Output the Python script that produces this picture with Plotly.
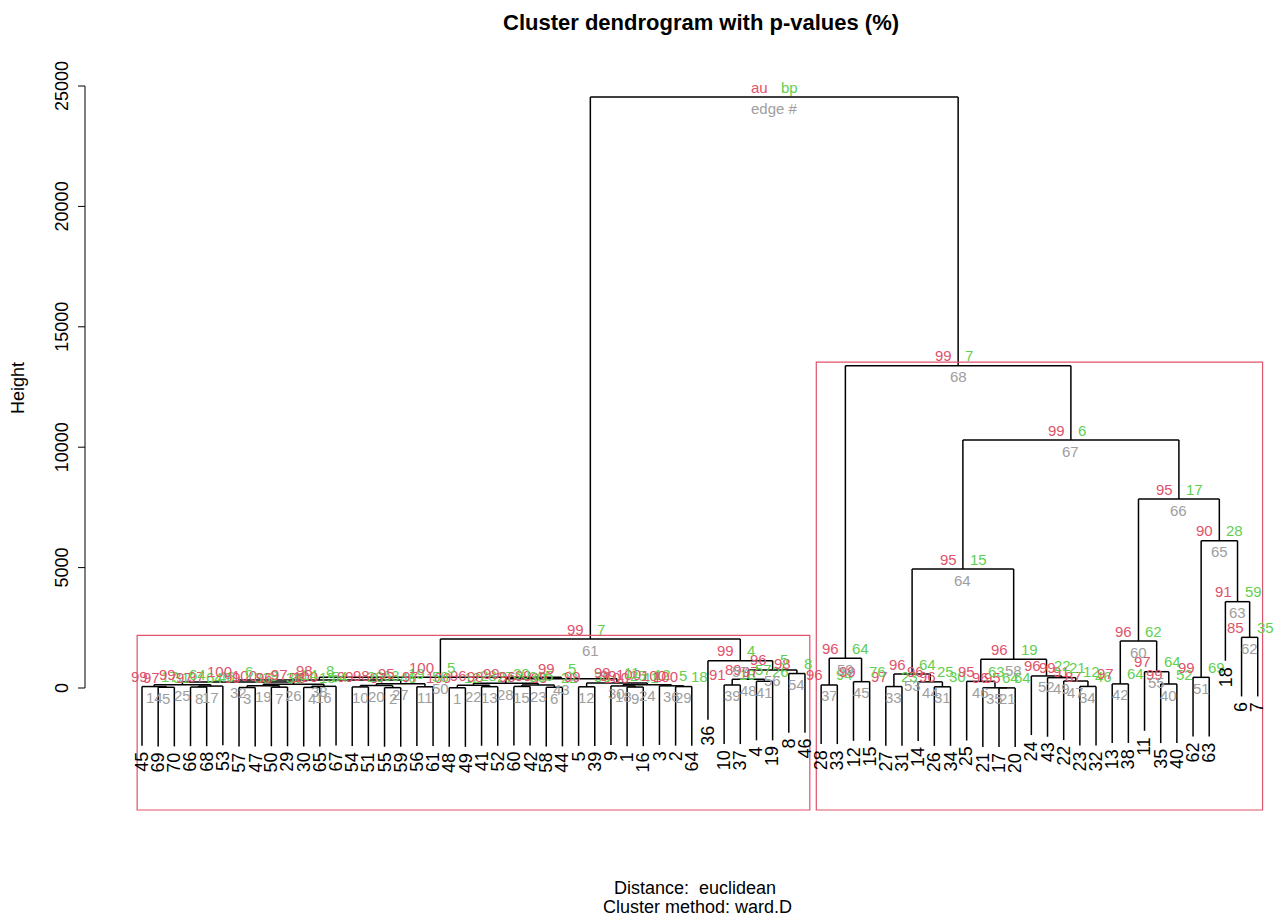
import plotly.graph_objects as go

# ---------------- data ----------------
title_text = "Cluster dendrogram with p-values (%)"
xlab_text = "Distance:  euclidean"
sub_text = "Cluster method: ward.D"
ylab_text = "Height"

leaf_order = [45, 69, 70, 66, 68, 53, 57, 47, 50, 29, 30, 65, 67, 54, 51, 55, 59, 56, 61, 48,
              49, 41, 52, 60, 42, 58, 44, 5, 39, 9, 1, 16, 3, 2, 64, 36, 10, 37, 4, 19,
              8, 46, 28, 33, 12, 15, 27, 31, 14, 26, 34, 25, 21, 17, 20, 24, 43, 22, 23, 32,
              13, 38, 11, 35, 40, 62, 63, 18, 6, 7]

# hclust-style merge rows (row number = edge #); negative = leaf label, positive = earlier row
merge_left = [-48, -55, -57, -30, -69, -58, -50, -66, -1, -54,
              -56, -5, -41, -45, -60, 4, 8, -9, 3, 10,
              -17, 1, 15, 18, 14, 19, 20, 22, -2, 12,
              -26, 25, -27, -23, -21, -3, -28, 32, -10, -35,
              -4, -13, 28, -14, -12, -25, -22, 39, -43, 38,
              -62, -24, 33, -8, -11, 48, -36, 46, 37, 42,
              50, -6, -18, 53, 51, 60, 64, 59, 61]
merge_right = [-49, -59, -47, -65, -70, -44, -29, -68, -16, -51,
               -61, -39, -52, 5, -42, -67, -53, 9, 7, 2,
               -20, 13, 6, 36, 17, 16, 11, 23, -64, 24,
               -34, 26, -31, -32, 21, 29, -33, 27, -37, -40,
               -19, -38, 30, 31, -15, 35, 34, 41, 47, 43,
               -63, 49, 44, -46, 40, 54, 56, 52, 45, 55,
               57, -7, 62, 58, 63, 65, 66, 67, 68]
merge_height = [10, 15, 20, 25, 30, 30, 35, 40, 40, 45,
                50, 50, 55, 60, 65, 70, 80, 85, 90, 100,
                5, 110, 120, 130, 140, 160, 180, 200, 60, 210,
                50, 250, 60, 65, 8, 90, 125, 330, 125, 166,
                280, 170, 380, 255, 262, 275, 290, 360, 430, 450,
                443, 500, 580, 600, 677, 750, 1134, 1190, 1233, 1952,
                2035, 2104, 3585, 4942, 6118, 7849, 10299, 13385, 24543]
au_values = [100, 97, 99, 98, 97, 99, 96, 97, 100, 99,
             97, 99, 98, 99, 96, 100, 97, 99, 100, 98,
             95, 96, 99, 100, 99, 97, 95, 99, 100, 99,
             96, 100, 97, 87, 96, 100, 96, 98, 91, 99,
             97, 97, 99, 96, 99, 95, 91, 89, 99, 100,
             99, 96, 96, 98, 97, 96, 99, 96, 96, 96,
             99, 85, 91, 95, 90, 95, 99, 99, 99]
bp_values = [12, 46, 33, 15, 31, 22, 38, 64, 41, 20,
             58, 36, 27, 17, 30, 54, 46, 25, 9, 63,
             64, 28, 5, 12, 64, 14, 19, 30, 18, 11,
             30, 6, 23, 46, 64, 5, 94, 8, 18, 52,
             26, 64, 5, 25, 76, 63, 12, 57, 21, 5,
             69, 22, 64, 8, 64, 5, 4, 19, 64, 62,
             7, 35, 59, 15, 28, 17, 6, 7, 7]
y_ticks = [0, 5000, 10000, 15000, 20000, 25000]
highlight_edges = [61, 68]   # clusters boxed by pvrect (au >= 95)

# ---------------- styling / layout constants ----------------
RED = "#DF536B"
GREEN = "#61D04F"
GRAY = "#9E9E9E"
FONT = "Liberation Sans, Arial, Helvetica, sans-serif"
W, H = 1280, 924
M_L, M_R, M_T, M_B = 60, 5, 60, 94
X_RANGE = [-4.071, 71.068]
Y_RANGE = [-5897, 26080]
AXIS_X = -2.525
PX_PER_X = (W - M_L - M_R) / (X_RANGE[1] - X_RANGE[0])

# ---------------- geometry from the merge table ----------------
pos = {lab: i + 1 for i, lab in enumerate(leaf_order)}
n_rows = len(merge_left)
max_h = max(merge_height)
hang = 0.1 * max_h
node_x = {}


def child_x(c):
    if c < 0:
        return pos[-c]
    return row_x(c)


def row_x(r):
    if r not in node_x:
        node_x[r] = (child_x(merge_left[r - 1]) + child_x(merge_right[r - 1])) / 2.0
    return node_x[r]


def leaves_of(c):
    if c < 0:
        return [-c]
    return leaves_of(merge_left[c - 1]) + leaves_of(merge_right[c - 1])


lx, ly = [], []
leaf_end = {}
for r in range(1, n_rows + 1):
    h = merge_height[r - 1]
    cl, cr = merge_left[r - 1], merge_right[r - 1]
    xl, xr = child_x(cl), child_x(cr)
    lx += [xl, xr, None]
    ly += [h, h, None]
    for c, xc in ((cl, xl), (cr, xr)):
        if c < 0:
            bottom = h - hang
            leaf_end[-c] = bottom
        else:
            bottom = merge_height[c - 1]
        lx += [xc, xc, None]
        ly += [bottom, h, None]

fig = go.Figure()
fig.add_trace(go.Scatter(x=lx, y=ly, mode="lines",
                         line=dict(color="black", width=1.5),
                         hoverinfo="skip", showlegend=False))

annotations = []
shapes = []

# pvrect boxes
rect_bottom = -5066
for e in highlight_edges:
    lv = [pos[l] for l in leaves_of(e)]
    shapes.append(dict(type="rect", xref="x", yref="y",
                       x0=min(lv) - 0.3, x1=max(lv) + 0.3,
                       y0=rect_bottom, y1=merge_height[e - 1] + 0.006 * max_h,
                       line=dict(color=RED, width=1.2), fillcolor="rgba(0,0,0,0)"))

# au / bp / edge labels
for r in range(1, n_rows + 1):
    x = row_x(r)
    h = merge_height[r - 1]
    if r == n_rows:
        a_txt, b_txt, e_txt = "au", "bp", "edge #"
    else:
        a_txt, b_txt, e_txt = str(au_values[r - 1]), str(bp_values[r - 1]), str(r)
    common = dict(x=x, y=h, xref="x", yref="y", showarrow=False, borderpad=0,
                  borderwidth=0)
    annotations.append(dict(text=a_txt, xanchor="right", yanchor="middle",
                            xshift=-6, yshift=10,
                            font=dict(family=FONT, size=15, color=RED), **common))
    annotations.append(dict(text=b_txt, xanchor="left", yanchor="middle",
                            xshift=7, yshift=10,
                            font=dict(family=FONT, size=15, color=GREEN), **common))
    annotations.append(dict(text=e_txt, xanchor="center", yanchor="middle",
                            xshift=0, yshift=-11,
                            font=dict(family=FONT, size=15, color=GRAY), **common))

# leaf labels
for lab in leaf_order:
    annotations.append(dict(text=str(lab), x=pos[lab], y=leaf_end[lab], xref="x", yref="y",
                            showarrow=False, textangle=-90, xanchor="center",
                            yanchor="top", yshift=-5, borderpad=0,
                            font=dict(family=FONT, size=18, color="black")))

# y axis (drawn R-style, spanning only the tick range)
shapes.append(dict(type="line", xref="x", yref="y", x0=AXIS_X, x1=AXIS_X,
                   y0=y_ticks[0], y1=y_ticks[-1], line=dict(color="black", width=1)))
for t in y_ticks:
    shapes.append(dict(type="line", xref="x", yref="y", x0=AXIS_X - 7 / PX_PER_X,
                       x1=AXIS_X, y0=t, y1=t, line=dict(color="black", width=1)))
    annotations.append(dict(text=str(t), x=AXIS_X, y=t, xref="x", yref="y",
                            showarrow=False, textangle=-90, xanchor="center",
                            yanchor="middle", xshift=-23, borderpad=0,
                            font=dict(family=FONT, size=18, color="black")))

# titles
annotations.append(dict(text="<b>" + title_text + "</b>", x=701, y=22, xref="paper", yref="paper",
                        showarrow=False, font=dict(family=FONT, size=22, color="black")))
annotations.append(dict(text=xlab_text, x=695, y=888, xref="paper", yref="paper",
                        showarrow=False, font=dict(family=FONT, size=18, color="black")))
annotations.append(dict(text=sub_text, x=697, y=907, xref="paper", yref="paper",
                        showarrow=False, font=dict(family=FONT, size=18, color="black")))
annotations.append(dict(text=ylab_text, x=18, y=388, xref="paper", yref="paper",
                        showarrow=False, textangle=-90,
                        font=dict(family=FONT, size=18, color="black")))

# convert pixel-placed text annotations to paper coords
pw, ph = W - M_L - M_R, H - M_T - M_B
for a in annotations[-4:]:
    a["x"] = (a["x"] - M_L) / pw
    a["y"] = 1 - (a["y"] - M_T) / ph
    a["xanchor"] = "center"
    a["yanchor"] = "middle"

fig.update_layout(
    width=W, height=H,
    margin=dict(l=M_L, r=M_R, t=M_T, b=M_B),
    paper_bgcolor="white", plot_bgcolor="white",
    xaxis=dict(visible=False, range=X_RANGE, fixedrange=True),
    yaxis=dict(visible=False, range=Y_RANGE, fixedrange=True),
    shapes=shapes, annotations=annotations,
    showlegend=False,
)

fig.write_html("out.html", config={"displayModeBar": False},
               post_script="document.body.style.margin='0';")
